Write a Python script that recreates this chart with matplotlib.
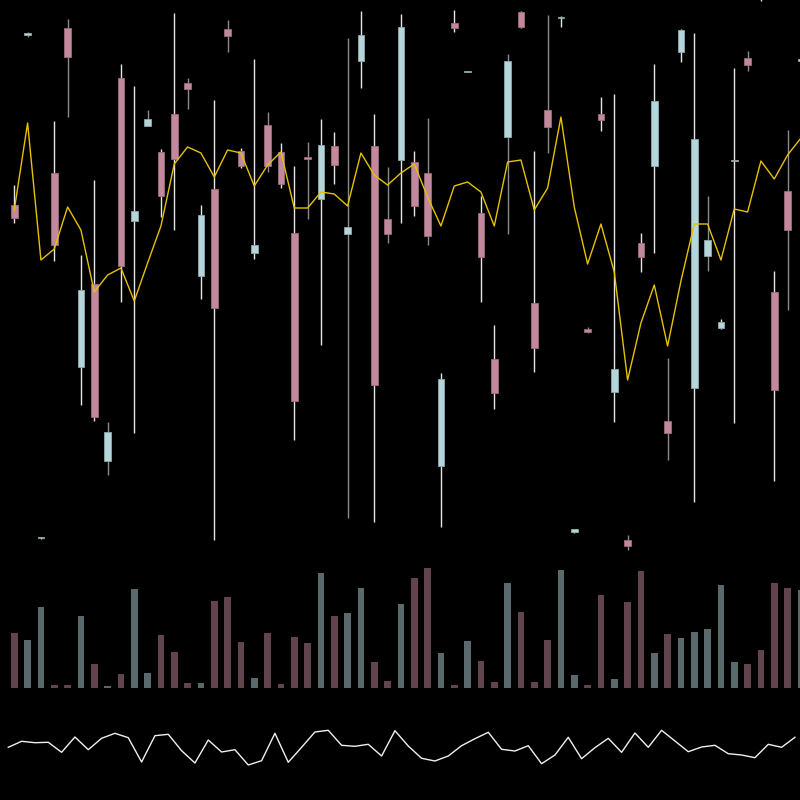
import numpy as np
import matplotlib
matplotlib.use("Agg")
import matplotlib.pyplot as plt

# ---------------- data ----------------
opens = [59.5, 76.55, 26.2, 62.7, 77.2, 43.3, 51.6, 33.9, 72.2, 57.9,
         67.4, 64.8, 68.6, 71.7, 52.4, 61.1, 77.1, 64.9, 54.7, 67.5,
         64.8, 56.7, 64.3, 60.1, 65.4, 56.6, 73.9, 65.4, 58.1, 64.0,
         63.8, 62.7, 33.4, 77.65, 72.85, 58.7, 44.1, 66.3, 78.84, 49.7,
         69.0, 78.2, 26.8, 47.1, 68.6, 40.8, 26.0, 55.7, 63.4, 37.9,
         74.8, 41.2, 54.4, 47.2, 63.95, 74.2, 81.0, 50.8, 60.9, 73.95]
closes = [58.2, 76.7, 26.3, 55.5, 74.3, 51.0, 38.3, 36.8, 53.4, 58.9,
          68.1, 60.4, 64.1, 71.1, 58.5, 49.2, 76.4, 63.4, 55.5, 63.4,
          61.6, 39.9, 64.1, 65.5, 63.5, 57.3, 76.5, 41.5, 56.6, 77.3,
          59.4, 56.4, 42.1, 77.2, 72.9, 54.3, 40.7, 73.9, 77.3, 45.2,
          67.3, 78.35, 27.1, 46.8, 68.0, 43.1, 25.4, 54.3, 69.9, 36.7,
          76.95, 66.1, 56.0, 47.8, 64.05, 73.5, 80.5, 41.0, 57.0, 74.1]
highs = [61.5, 76.84, 26.35, 67.9, 78.1, 54.5, 62.0, 37.8, 73.6, 71.4,
         69.0, 65.1, 78.7, 72.2, 59.5, 70.0, 78.0, 65.2, 74.1, 68.8,
         65.7, 63.4, 65.8, 68.1, 66.8, 76.2, 78.9, 68.6, 63.3, 78.6,
         64.9, 68.2, 42.7, 79.0, 72.95, 60.4, 47.5, 74.6, 78.95, 64.9,
         78.5, 78.4, 27.15, 47.3, 70.3, 70.6, 26.5, 56.7, 73.6, 44.2,
         77.1, 76.7, 60.4, 48.1, 73.2, 74.9, 81.5, 52.9, 67.0, 74.15]
lows = [57.7, 76.35, 26.15, 53.9, 68.3, 39.5, 37.9, 32.5, 49.8, 36.7,
        67.4, 58.3, 57.0, 69.1, 50.1, 26.0, 74.8, 63.2, 54.1, 62.8,
        61.2, 36.0, 58.1, 45.5, 61.6, 28.2, 71.2, 27.8, 55.7, 57.7,
        58.4, 55.5, 27.3, 76.8, 72.8, 49.8, 39.1, 56.6, 77.2, 42.8,
        64.7, 77.3, 26.75, 46.7, 66.9, 37.8, 25.0, 52.8, 54.7, 34.0,
        73.8, 29.8, 52.9, 47.1, 37.7, 72.9, 79.88, 31.9, 49.0, 73.9]
line_yellow = [59.0, 67.7, 54.0, 55.1, 59.3, 57.0, 50.8, 52.5, 53.2, 49.9,
               53.7, 57.4, 63.6, 65.3, 64.7, 62.3, 65.0, 64.7, 61.4, 63.5,
               64.8, 59.2, 59.2, 60.8, 60.6, 59.4, 64.7, 62.5, 61.5, 62.7,
               63.6, 60.3, 57.4, 61.4, 61.8, 60.8, 57.4, 63.8, 64.0, 59.0,
               61.2, 68.3, 59.3, 53.6, 57.6, 52.8, 42.0, 47.7, 51.5, 45.4,
               51.9, 57.6, 57.6, 54.0, 59.1, 58.8, 63.9, 62.1, 64.5, 66.2]
volumes = [544, 477, 807, 24, 24, 714, 234, 17, 137, 987,
           147, 527, 360, 44, 47, 870, 907, 457, 97, 547,
           37, 507, 450, 1150, 714, 744, 994, 254, 64, 840,
           1100, 1197, 350, 27, 467, 264, 54, 1044, 760, 60,
           474, 1174, 124, 27, 930, 87, 860, 1170, 347, 534,
           500, 557, 584, 1030, 254, 237, 377, 1044, 994, 974]
oscillator = [52.7, 58.7, 57.3, 57.7, 47.7, 63.0, 50.3, 61.7, 66.7, 62.3,
              38.0, 64.3, 65.7, 49.3, 37.0, 60.0, 48.0, 50.3, 35.0, 39.3,
              66.7, 37.7, 52.7, 68.0, 69.7, 54.7, 53.7, 55.7, 44.0, 69.3,
              54.0, 41.7, 39.0, 44.0, 54.3, 61.3, 67.7, 50.7, 49.0, 54.3,
              36.3, 45.0, 62.7, 41.3, 52.3, 61.7, 47.7, 67.0, 52.7, 69.7,
              59.0, 48.3, 53.0, 54.7, 46.3, 45.0, 42.3, 55.7, 52.7, 62.7]

# ---------------- style ----------------
UP = "#b4d5d9"
DOWN = "#c2899d"
UP_EDGE = "#8fa9ac"
DOWN_EDGE = "#9a6d7d"
BG = "black"

n = len(opens)
x = np.arange(n)
o = np.array(opens); c = np.array(closes)
h = np.array(highs); l = np.array(lows)
up = c >= o

fig = plt.figure(figsize=(8, 8), dpi=100, facecolor=BG)

# price panel (full figure)
ax = fig.add_axes([0, 0, 1, 1])
ax.set_facecolor(BG)
ax.set_xlim(-1.07, 58.93)
ax.set_ylim(0, 80)
ax.axis("off")

# volume panel
axv = fig.add_axes([0, 0.1404, 1, 0.25])
axv.patch.set_alpha(0)
axv.set_xlim(-1.07, 58.93)
axv.set_ylim(0, 2000)
axv.axis("off")

# oscillator panel
axo = fig.add_axes([0, 0, 1, 0.125])
axo.patch.set_alpha(0)
axo.set_xlim(-0.62, 59.38)
axo.set_ylim(0, 100)
axo.axis("off")

# volume bars
vcols = [UP if u else DOWN for u in up]
axv.bar(x, volumes, width=0.5, color=vcols, alpha=0.5, linewidth=0)

# wicks
wick_cols = ["#8c8c8c" if i % 3 == 1 else "#e6e6e6" for i in range(n)]
ax.vlines(x, l, h, colors=wick_cols, linewidth=1.0, zorder=2)

# bodies
bottoms = np.minimum(o, c)
heights = np.maximum(np.abs(c - o), 0.05)
ax.bar(x, heights, bottom=bottoms, width=0.5,
       color=[UP if u else DOWN for u in up],
       edgecolor=[UP_EDGE if u else DOWN_EDGE for u in up],
       linewidth=0.6, zorder=3)

# yellow line
ax.plot(x, line_yellow, color="#e6c200", linewidth=1.0, zorder=4)

# oscillator
axo.plot(x, oscillator, color="#f0f0f0", linewidth=1.0)

fig.savefig("out.png", dpi=100, facecolor=BG)
